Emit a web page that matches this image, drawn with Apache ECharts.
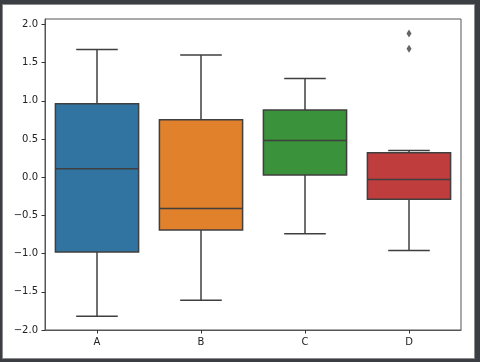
<!DOCTYPE html>
<html>
<head>
<meta charset="utf-8">
<script src="https://cdn.jsdelivr.net/npm/echarts@6/dist/echarts.min.js"></script>
<style>
html,body{margin:0;padding:0;background:#3b3e43;}
#chart{width:480px;height:362px;}
</style>
</head>
<body>
<div id="chart"></div>
<script>
const categories = ['A', 'B', 'C', 'D'];
const whiskerLow = [-1.82, -1.61, -0.74, -0.96];
const quartile1 = [-0.98, -0.69, 0.03, -0.29];
const medians = [0.11, -0.41, 0.48, -0.03];
const quartile3 = [0.96, 0.75, 0.88, 0.32];
const whiskerHigh = [1.67, 1.60, 1.29, 0.35];
const outlierCategory = ['D', 'D'];
const outlierValues = [1.88, 1.68];
const yTicks = [-2.0, -1.5, -1.0, -0.5, 0.0, 0.5, 1.0, 1.5, 2.0];

const palette = ['#3274a1', '#e1812c', '#3a923a', '#c03d3e'];
const edge = '#3f3f3f';

const boxData = categories.map((c, i) => [i, whiskerLow[i], quartile1[i], medians[i], quartile3[i], whiskerHigh[i]]);
const outlierData = outlierCategory.map((c, i) => [categories.indexOf(c), outlierValues[i]]);

const fmt = v => v.toFixed(1).replace('-', '\u2212');

const chart = echarts.init(document.getElementById('chart'), null, {renderer: 'canvas'});
chart.setOption({
  backgroundColor: '#3b3e43',
  animation: false,
  textStyle: {fontFamily: 'DejaVu Sans'},
  graphic: [{
    type: 'rect', z: -10, silent: true,
    shape: {x: 2.5, y: 4.5, width: 472, height: 354},
    style: {fill: '#ffffff', stroke: '#8c8c8c', lineWidth: 1}
  }],
  grid: {left: 45, right: 19, top: 19, bottom: 32, show: true, borderColor: '#555', borderWidth: 1, backgroundColor: 'transparent'},
  xAxis: {
    type: 'category', data: categories, boundaryGap: true,
    axisLine: {show: true, onZero: false, lineStyle: {color: '#555', width: 1}},
    axisTick: {show: true, alignWithLabel: true, length: 3.5, lineStyle: {color: '#333'}},
    axisLabel: {color: '#222', fontSize: 10, margin: 7, fontFamily: 'DejaVu Sans'},
    splitLine: {show: false}
  },
  yAxis: {
    type: 'value', min: -2.0, max: 2.07,
    axisLine: {show: true, onZero: false, lineStyle: {color: '#555', width: 1}},
    axisTick: {show: true, length: 3.5, lineStyle: {color: '#333'}, customValues: yTicks},
    axisLabel: {color: '#222', fontSize: 10, margin: 7, fontFamily: 'DejaVu Sans', customValues: yTicks, formatter: fmt},
    splitLine: {show: false}
  },
  series: [{
    type: 'custom',
    data: boxData,
    encode: {x: 0, y: [1, 2, 3, 4, 5]},
    renderItem: function (params, api) {
      const x = api.value(0);
      const lo = api.coord([x, api.value(1)]);
      const q1 = api.coord([x, api.value(2)]);
      const md = api.coord([x, api.value(3)]);
      const q3 = api.coord([x, api.value(4)]);
      const hi = api.coord([x, api.value(5)]);
      const band = api.size([1, 0])[0];
      const w = band * 0.8;
      const cw = w / 2;
      const cx = lo[0];
      const ls = {stroke: edge, lineWidth: 1.5, fill: null};
      return {
        type: 'group',
        children: [
          {type: 'line', shape: {x1: cx, y1: q3[1], x2: cx, y2: hi[1]}, style: ls},
          {type: 'line', shape: {x1: cx, y1: q1[1], x2: cx, y2: lo[1]}, style: ls},
          {type: 'line', shape: {x1: cx - cw / 2, y1: hi[1], x2: cx + cw / 2, y2: hi[1]}, style: ls},
          {type: 'line', shape: {x1: cx - cw / 2, y1: lo[1], x2: cx + cw / 2, y2: lo[1]}, style: ls},
          {type: 'rect', shape: {x: cx - w / 2, y: q3[1], width: w, height: q1[1] - q3[1]},
            style: {fill: palette[params.dataIndex], stroke: edge, lineWidth: 1.5}},
          {type: 'line', shape: {x1: cx - w / 2, y1: md[1], x2: cx + w / 2, y2: md[1]}, style: ls}
        ]
      };
    }
  }, {
    type: 'scatter',
    data: outlierData,
    symbol: 'diamond',
    symbolSize: [5, 8],
    itemStyle: {color: edge}
  }]
});
</script>
</body>
</html>
